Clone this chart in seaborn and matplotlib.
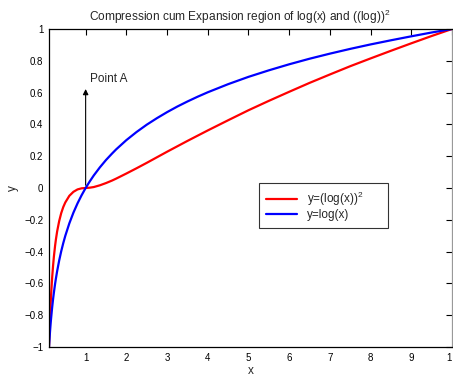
import matplotlib
matplotlib.use("Agg")
import matplotlib.pyplot as plt
import seaborn as sns
import pandas as pd

# values
x_vals = [0.1, 0.11, 0.12, 0.13, 0.14, 0.15, 0.17, 0.18, 0.2, 0.22, 0.25, 0.27, 0.3, 0.35,
          0.4, 0.45, 0.5, 0.6, 0.7, 0.8, 0.9, 1.0, 1.1, 1.2, 1.35, 1.5, 1.65, 1.75, 2.0,
          2.25, 2.5, 2.75, 3.0, 3.25, 3.5, 3.75, 4.0, 4.5, 5.0, 5.5, 6.0, 6.5, 7.0, 7.5,
          8.0, 8.5, 9.0, 9.5, 10.0]
y_log = [-1.0, -0.959, -0.921, -0.886, -0.854, -0.824, -0.770, -0.745, -0.699, -0.658,
         -0.602, -0.569, -0.523, -0.456, -0.398, -0.347, -0.301, -0.222, -0.155, -0.097,
         -0.046, 0.0, 0.041, 0.079, 0.130, 0.176, 0.217, 0.243, 0.301, 0.352, 0.398,
         0.439, 0.477, 0.512, 0.544, 0.574, 0.602, 0.653, 0.699, 0.740, 0.778, 0.813,
         0.845, 0.875, 0.903, 0.929, 0.954, 0.978, 1.0]
y_sq = [-1.0, -0.920, -0.848, -0.785, -0.729, -0.679, -0.593, -0.555, -0.489, -0.432,
        -0.362, -0.323, -0.273, -0.208, -0.158, -0.120, -0.091, -0.049, -0.024, -0.009,
        -0.002, 0.0, 0.002, 0.006, 0.017, 0.031, 0.047, 0.059, 0.091, 0.124, 0.158,
        0.193, 0.228, 0.262, 0.296, 0.329, 0.362, 0.426, 0.489, 0.548, 0.605, 0.661,
        0.714, 0.766, 0.815, 0.863, 0.910, 0.956, 1.0]
labels = ["y=(log(x))$^2$", "y=log(x)"]
x_ticks = [1, 2, 3, 4, 5, 6, 7, 8, 9, 10]
x_ticklabels = ["1", "2", "3", "4", "5", "6", "7", "8", "9", "1"]
y_ticks = [-1, -0.8, -0.6, -0.4, -0.2, 0, 0.2, 0.4, 0.6, 0.8, 1]
y_ticklabels = ["\u22121", "\u22120.8", "\u22120.6", "\u22120.4", "\u22120.2", "0",
                "0.2", "0.4", "0.6", "0.8", "1"]

df = pd.concat([
    pd.DataFrame({"x": x_vals, "y": y_sq, "curve": labels[0]}),
    pd.DataFrame({"x": x_vals, "y": y_log, "curve": labels[1]}),
])

sns.set_style("white")
plt.rcParams["font.family"] = ["Liberation Sans", "DejaVu Sans"]
plt.rcParams["mathtext.fontset"] = "custom"
plt.rcParams["mathtext.rm"] = "Liberation Sans"

fig = plt.figure(figsize=(4.53, 3.79), dpi=100)
ax = fig.add_axes([49 / 453, 32 / 379, 403 / 453, 318 / 379])

sns.lineplot(data=df, x="x", y="y", hue="curve", palette=["#ff0000", "#0000ff"],
             linewidth=1.6, ax=ax, sort=False, estimator=None)

ax.set_xlim(0.1, 10)
ax.set_ylim(-1, 1)
ax.set_xticks(x_ticks)
ax.set_xticklabels(x_ticklabels)
ax.set_yticks(y_ticks)
ax.set_yticklabels(y_ticklabels)
ax.tick_params(direction="in", length=4, width=0.8, labelsize=7, top=True, right=True,
               colors="black", pad=4)
last = ax.get_xticklabels()[-1]
last.set_horizontalalignment("right")
for s in ax.spines.values():
    s.set_color("black")
    s.set_linewidth(0.9)
ax.spines["right"].set_color("#999999")

ax.set_xlabel("x", fontsize=8.5, labelpad=2)
ax.set_ylabel("y", fontsize=8.5)
ax.yaxis.set_label_coords(-(49 - 19) / 403, 0.5)
ax.set_title("Compression cum Expansion region of log(x) and ((log))$^2$", fontsize=8.6,
             pad=6, x=0.472)

ax.annotate("", xy=(1, 0.64), xytext=(1, 0),
            arrowprops=dict(arrowstyle="-|>", color="black", lw=0.8, mutation_scale=8))
ax.text(1.1, 0.65, "Point A", fontsize=8.5, ha="left", va="bottom")

leg = ax.legend(loc="upper left",
                bbox_to_anchor=((259 - 49) / 403, (347 - 183) / 318, 129 / 403, 0.0),
                mode="expand", frameon=True, fontsize=8.5, fancybox=False, borderpad=0.6,
                handlelength=2.6, labelspacing=0.05, handletextpad=0.9, borderaxespad=0)
leg.get_frame().set_edgecolor("black")
leg.get_frame().set_linewidth(0.8)

fig.savefig("out.png", dpi=100)
